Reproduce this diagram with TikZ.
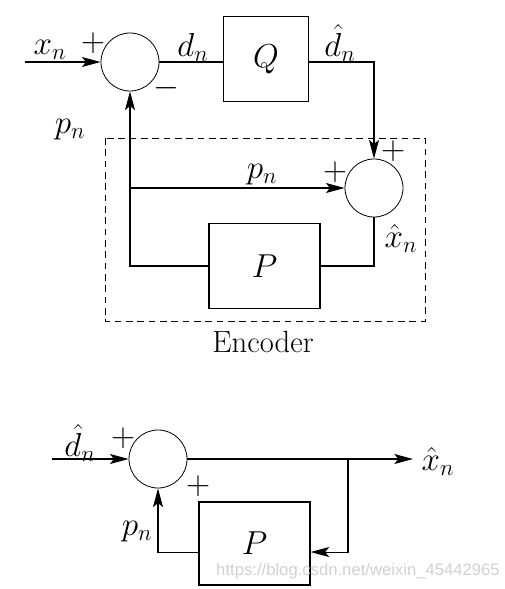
\documentclass[tikz,border=0pt]{standalone}
\usepackage{fontspec}
\newfontfamily\wmfont{Liberation Sans}
\usetikzlibrary{arrows.meta}
\begin{document}
\begin{tikzpicture}[x=0.75pt,y=-0.75pt,
  line width=0.8pt,
  arr/.style={-{Stealth[length=14pt,width=7.5pt,inset=3pt]}},
  sumnode/.style={circle,draw,line width=0.6pt,minimum size=43.5pt,inner sep=0pt},
  blk/.style={draw,inner sep=0pt,font=\fontsize{23}{27}\selectfont},
  lbl/.style={inner sep=0pt,font=\fontsize{23}{27}\selectfont},
  sgn/.style={inner sep=0pt,font=\fontsize{25}{28}\selectfont}]
\useasboundingbox (0,0) rectangle (504,589);
% ---------- Encoder ----------
\node[sumnode] (s1) at (130,62) {};
\node[blk,minimum width=63.75pt,minimum height=63.75pt] (q) at (266,59) {$Q$};
\node[sumnode] (s2) at (374,188) {};
\node[blk,minimum width=83.25pt,minimum height=63.75pt] (p1) at (264.5,266) {$P$};
\coordinate (in1) at (25,62);
\draw[arr] (in1) -- (s1.west);
\draw (s1.east) -- (s1.east -| q.west);
\draw[arr] (s1.east -| q.east) -| (s2.north);
\draw[arr] (p1.west) -| (s1.south);
\draw[arr] (s1.south |- s2) -- (s2.west);
\draw (s2.south) |- (p1.east);
\draw[line width=0.65pt,dash pattern=on 5pt off 3.5pt] (105,138) rectangle (425,321);
\node[lbl] (lxn) at (50,50) {$x_n$};
\node[sgn] (sa) at (93,43) {+};
\node[sgn] (sb) at (166,88) {$-$};
\node[lbl] (ldn) at (193,47) {$d_n$};
\node[lbl] (ldh) at (340,43) {$\hat{d}_n$};
\node[lbl] (lpn1) at (70,130) {$p_n$};
\node[sgn] (sc) at (393,151) {+};
\node[sgn] (sd) at (335,172) {+};
\node[lbl] (lpn2) at (262,175) {$p_n$};
\node[lbl] (lxh) at (401,238) {$\hat{x}_n$};
\node[lbl] (enc) at (263,342) {Encoder};
% ---------- Decoder ----------
\node[sumnode] (s3) at (158,459) {};
\node[blk,minimum width=83.25pt,minimum height=62.25pt] (p2) at (254.5,543.5) {$P$};
\coordinate (in2) at (52,459);
\coordinate (out) at (413,459);
\coordinate (br) at (348,459);
\draw[arr] (in2) -- (s3.west);
\draw[arr] (s3.east) -- (out);
\draw[arr] (br) |- ([yshift=-6.4pt]p2.east);
\draw[arr] ([yshift=-6.4pt]p2.west) -| (s3.south);
\node[lbl] (ldh2) at (80,443) {$\hat{d}_n$};
\node[sgn] (se) at (123,438) {+};
\node[sgn] (sf) at (198,486) {+};
\node[lbl] (lxh2) at (438,461) {$\hat{x}_n$};
\node[lbl] (lpn3) at (137,532) {$p_n$};
\node[inner sep=0pt,text=black!18,font=\wmfont\fontsize{12.5}{14}\selectfont] (wm) at (358,571) {https://blog.csdn.net/weixin\_45442965};
\end{tikzpicture}
\end{document}
